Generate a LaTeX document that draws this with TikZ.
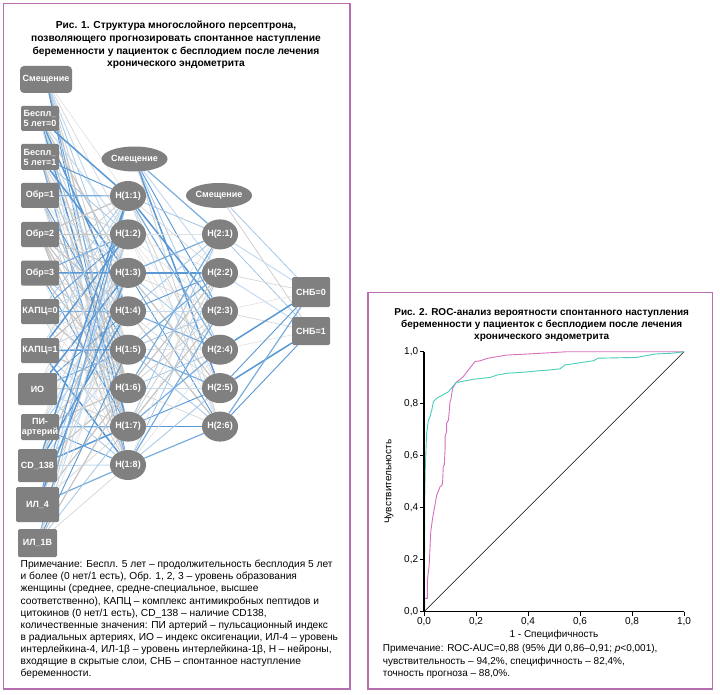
\documentclass[tikz,border=0pt]{standalone}
\usepackage{fontspec}
\setmainfont{Liberation Sans}
\usetikzlibrary{shapes.geometric}
\usetikzlibrary{backgrounds}
\definecolor{framepurple}{RGB}{183,110,175}
\definecolor{nodegray}{RGB}{128,128,128}
\definecolor{wblue}{RGB}{88,152,212}
\definecolor{wgray}{RGB}{196,196,196}
\definecolor{roccyan}{RGB}{72,206,186}
\definecolor{rocpink}{RGB}{214,112,190}
\tikzstyle{unit_in}=[rectangle, rounded corners=1.5pt, fill=nodegray, text=white, align=center,
    inner sep=0pt, minimum width=38pt, minimum height=25pt, font=\fontsize{9}{10}\selectfont\bfseries]
\tikzstyle{unit_hid}=[ellipse, fill=nodegray, text=white, inner sep=0pt,
    minimum width=36pt, minimum height=30pt, font=\fontsize{9}{10}\selectfont\bfseries]
\tikzstyle{unit_bias}=[unit_hid, minimum width=54pt, minimum height=25pt]
\tikzstyle{w0}=[wblue, line width=1.5pt]
\tikzstyle{w1}=[wgray!70, line width=0.7pt]
\tikzstyle{w2}=[wblue!55, line width=0.8pt]
\tikzstyle{w3}=[wgray, line width=1.2pt]
\tikzstyle{w4}=[wblue, line width=0.9pt]
\tikzstyle{w5}=[wgray!50, line width=0.6pt]
\tikzstyle{w6}=[wblue!35, line width=1.0pt]
\tikzstyle{w7}=[wgray!80, line width=0.8pt]
\tikzstyle{w8}=[wblue!80, line width=1.2pt]

\begin{document}
\begin{tikzpicture}[x=1pt, y=-1pt]
  \useasboundingbox (0,0) rectangle (720,695);
  % frames
  \draw[framepurple, line width=1.3pt] (3.5,3.5) rectangle (350,689);
  \draw[framepurple, line width=1.3pt] (368,292.5) rectangle (712.5,689);

  % fig. 1
  \node[font=\fontsize{10.2}{12.7}\selectfont\bfseries, align=center] (title1) at (176,45.2)
    {Рис. 1. Структура многослойного персептрона,\\позволяющего прогнозировать спонтанное наступление\\беременности у пациенток с бесплодием после лечения\\хронического эндометрита};

  \node[unit_in, minimum width=52pt, minimum height=27pt, rounded corners=4pt] (in0) at (46,79.5){Смещение};
  \node[unit_in] (in1) at (40,118.5){Беспл\_\\5 лет=0};
  \node[unit_in, minimum height=26pt] (in2) at (40,157){Беспл\_\\5 лет=1};
  \node[unit_in] (in3) at (40,195.5){Обр=1};
  \node[unit_in] (in4) at (40,234.5){Обр=2};
  \node[unit_in] (in5) at (40,273){Обр=3};
  \node[unit_in] (in6) at (40,311.5){КАПЦ=0};
  \node[unit_in] (in7) at (40,350.5){КАПЦ=1};
  \node[unit_in, minimum width=39pt, minimum height=32pt] (in8) at (37.5,389){ИО};
  \node[unit_in, minimum height=26pt] (in9) at (40,427){ПИ-\\артерий};
  \node[unit_in, minimum width=39pt, minimum height=33pt] (in10) at (37.5,465.5){CD\_138};
  \node[unit_in, minimum width=43pt, minimum height=35pt] (in11) at (37.5,504.5){ИЛ\_4};
  \node[unit_in, minimum width=39pt, minimum height=28pt] (in12) at (37.5,543){ИЛ\_1B};

  \node[unit_bias] (h1_0) at (134.5,159){Смещение};
  \node[unit_hid] (h1_1) at (128,196){Н(1:1)};
  \node[unit_hid] (h1_2) at (128,234.4){Н(1:2)};
  \node[unit_hid] (h1_3) at (128,272.9){Н(1:3)};
  \node[unit_hid] (h1_4) at (128,311.3){Н(1:4)};
  \node[unit_hid] (h1_5) at (128,349.7){Н(1:5)};
  \node[unit_hid] (h1_6) at (128,388.1){Н(1:6)};
  \node[unit_hid] (h1_7) at (128,426.6){Н(1:7)};
  \node[unit_hid] (h1_8) at (128,465){Н(1:8)};

  \node[unit_bias, minimum width=52pt] (h2_0) at (219,195.5){Смещение};
  \node[unit_hid] (h2_1) at (220,234.4){Н(2:1)};
  \node[unit_hid] (h2_2) at (220,272.9){Н(2:2)};
  \node[unit_hid] (h2_3) at (220,311.3){Н(2:3)};
  \node[unit_hid] (h2_4) at (220,349.7){Н(2:4)};
  \node[unit_hid] (h2_5) at (220,388.1){Н(2:5)};
  \node[unit_hid] (h2_6) at (220,426.6){Н(2:6)};

  \node[unit_in, minimum height=30pt] (out0) at (311,292){СНБ=0};
  \node[unit_in, minimum height=28pt] (out1) at (311,331){СНБ=1};

  \begin{pgfonlayer}{background}
    \fill[white] (0,0) rectangle (720,695);
    \foreach \i in {0,...,12}
      \foreach \j in {1,...,8}{
        \pgfmathtruncatemacro{\w}{mod(3*\i+5*\j+\i*\j,9)}
        \draw[w\w] (in\i) -- (h1_\j);
      }
    \foreach \i in {0,...,8}
      \foreach \j in {1,...,6}{
        \pgfmathtruncatemacro{\w}{mod(2*\i+7*\j+\i*\j+1,9)}
        \draw[w\w] (h1_\i) -- (h2_\j);
      }
    \foreach \i in {0,...,6}
      \foreach \j in {0,1}{
        \pgfmathtruncatemacro{\w}{mod(4*\i+5*\j+2,9)}
        \draw[w\w] (h2_\i) -- (out\j);
      }
  \end{pgfonlayer}

  \node[anchor=west, font=\fontsize{10.2}{12.1}\selectfont, align=left, inner sep=0pt] (note1) at (20.5,619.5)
    {Примечание: Беспл. 5 лет – продолжительность бесплодия 5 лет\\
     и более (0 нет/1 есть), Обр. 1, 2, 3 – уровень образования\\
     женщины (среднее, средне-специальное, высшее\\
     соответственно), КАПЦ – комплекс антимикробных пептидов и\\
     цитокинов (0 нет/1 есть), CD\_138 – наличие CD138,\\
     количественные значения: ПИ артерий – пульсационный индекс\\
     в радиальных артериях, ИО – индекс оксигенации, ИЛ-4 – уровень\\
     интерлейкина-4, ИЛ-1β – уровень интерлейкина-1β, Н – нейроны,\\
     входящие в скрытые слои, СНБ – спонтанное наступление\\
     беременности.};

  % fig. 2
  \node[font=\fontsize{10}{11.7}\selectfont\bfseries, align=center] (title2) at (541.7,325)
    {Рис. 2. ROC-анализ вероятности спонтанного наступления\\беременности у пациенток с бесплодием после лечения\\хронического эндометрита};

  \begin{scope}[shift={(424,611.7)}, x=260pt, y=260pt]
    \draw[black, line width=0.6pt] (0,0) -- (1,1);
    \draw[rocpink, line width=0.9pt] plot coordinates {(0.003,0) (0.003,0.051) (0.013,0.051) (0.013,0.122)
      (0.02,0.18) (0.026,0.308) (0.033,0.359) (0.049,0.449) (0.062,0.481) (0.07,0.487) (0.072,0.507)
      (0.074,0.558) (0.078,0.564) (0.081,0.622) (0.081,0.673) (0.087,0.692) (0.087,0.725) (0.094,0.737)
      (0.097,0.769) (0.1,0.808) (0.103,0.814) (0.11,0.859) (0.123,0.881) (0.151,0.904) (0.171,0.93)
      (0.196,0.962) (0.215,0.965) (0.247,0.975) (0.305,0.985) (0.318,0.987) (0.395,0.991) (0.485,0.996)
      (0.55,1) (1,1)};
    \draw[roccyan, line width=0.9pt] plot coordinates {(0,0) (0.002,0.2) (0.003,0.45) (0.005,0.55)
      (0.01,0.686) (0.017,0.737) (0.023,0.75) (0.03,0.776) (0.036,0.808) (0.049,0.821) (0.094,0.846)
      (0.123,0.881) (0.19,0.894) (0.254,0.901) (0.28,0.91) (0.318,0.917) (0.382,0.921) (0.433,0.926)
      (0.485,0.93) (0.523,0.934) (0.542,0.949) (0.651,0.965) (0.67,0.975) (0.818,0.978) (0.888,0.991)
      (0.953,0.994) (1,1)};
    \draw[line width=1.3pt] (0,1) -- (0,0) -- (1,0);
    \foreach \t/\a/\b in {0/0/0, 0.2/0/2, 0.4/0/4, 0.6/0/6, 0.8/0/8, 1/1/0}{
      \draw[line width=0.8pt] (0,\t) -- ++(-4pt,0) node[left, inner sep=1.5pt, font=\fontsize{10}{12}\selectfont] {\a,\b};
      \draw[line width=0.8pt] (\t,0) -- ++(0,-4pt) node[below, inner sep=1.5pt, font=\fontsize{10}{12}\selectfont] {\a,\b};
    }
    \node[rotate=90, font=\fontsize{10}{12}\selectfont] (ylab) at (-35pt,0.5) {Чувствительность};
    \node[font=\fontsize{10}{12}\selectfont] (xlab) at (0.5,-23pt) {1 - Специфичность};
  \end{scope}

  \node[anchor=west, font=\fontsize{10}{12.5}\selectfont, align=left, inner sep=0pt] (note2) at (382.7,661.7)
    {Примечание: ROC-AUC=0,88 (95\% ДИ 0,86–0,91; \textit{p}<0,001),\\
     чувствительность – 94,2\%, специфичность – 82,4\%,\\
     точность прогноза – 88,0\%.};
\end{tikzpicture}
\end{document}
